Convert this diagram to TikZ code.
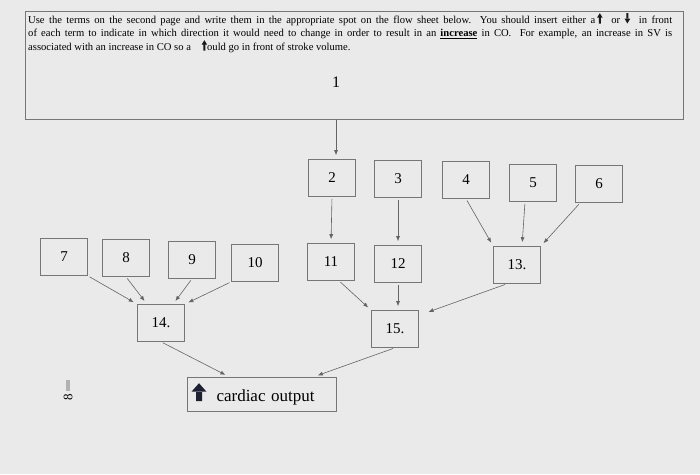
\documentclass[tikz,border=0pt]{standalone}
\usepackage{fontspec}
\setmainfont{Liberation Serif}
\usetikzlibrary{arrows.meta,positioning,calc}
\definecolor{screen}{RGB}{233,234,233}
\definecolor{rule}{RGB}{118,118,118}
\definecolor{navyarr}{RGB}{28,34,52}
% small solid arrows used inside the text
\newcommand{\uparr}{\tikz[baseline=0pt,x=1pt,y=1pt]{\fill[black!90] (1.8,-0.5) rectangle (3.8,5.5) (0,5.3) -- (5.6,5.3) -- (2.8,9.8) -- cycle;}}
\newcommand{\downarr}{\tikz[baseline=0pt,x=1pt,y=1pt]{\fill[black!90] (1.8,9.8) rectangle (3.8,4) (0,4.3) -- (5.6,4.3) -- (2.8,-0.5) -- cycle;}}
\newcommand{\bigup}{\tikz[baseline=-3pt,x=1pt,y=1pt]{\fill[navyarr] (4.5,-3) rectangle (10.5,7) (0,6.5) -- (15,6.5) -- (7.5,15) -- cycle;}}

\begin{document}
\begin{tikzpicture}[x=1pt,y=-1pt,
        font=\fontsize{15}{17}\selectfont,
        slot/.style={rectangle, draw=rule, line width=0.6pt, minimum width=47pt,
                minimum height=37pt, inner sep=0pt},
        flow/.style={draw=rule!85!black, line width=0.6pt, -{Latex[length=5pt,width=4pt]},
                shorten >=4pt, shorten <=2pt},
    ]
    \useasboundingbox (0,0) rectangle (700,474);
    \fill[screen] (0,0) rectangle (700,474);

    % ── Instructions ──────────────────────────────────────
    \node[draw=rule, line width=0.6pt, anchor=north west, minimum width=658pt,
        minimum height=108pt, inner sep=0pt] (hdr) at (25,11) {};
    \node[anchor=north west, text width=644pt, align=justify, inner sep=0pt,
        font=\fontsize{10.6}{13.5}\selectfont] (instr) at (28,13) {%
        Use the terms on the second page and write them in the appropriate spot on the flow sheet below.\ \ You should insert either a\,\uparr\ \ or\ \downarr\ \ in front\linebreak
        of each term to indicate in which direction it would need to change in order to result in an \underline{\textbf{increase}} in CO.\ \ For example, an increase in SV~is\linebreak
        associated with an increase in CO so a\quad\uparr ould go in front of stroke volume.};
    \node[font=\fontsize{16}{18}\selectfont] (one) at (336,82) {1};

    % ── Top row ───────────────────────────────────────────
    \node[slot] (b2) at (332,178) {2};
    \node[slot] (b3) at (398,179) {3};
    \node[slot] (b4) at (466,180) {4};
    \node[slot] (b5) at (533,183) {5};
    \node[slot] (b6) at (599,184) {6};

    % ── Middle row ────────────────────────────────────────
    \node[slot] (b7)  at ( 64,257) {7};
    \node[slot] (b8)  at (126,258) {8};
    \node[slot] (b9)  at (192,260) {9};
    \node[slot] (b10) at (255,263) {10};
    \node[slot] (b11) at (331,262) {11};
    \node[slot] (b12) at (398,264) {12};
    \node[slot] (b13) at (517,265) {13.};

    % ── Lower row ─────────────────────────────────────────
    \node[slot] (b14) at (161,323) {14.};
    \node[slot] (b15) at (395,329) {15.};
    \node[draw=rule, line width=0.6pt, minimum width=149pt, minimum height=34pt,
        text width=141pt, inner sep=4pt, font=\fontsize{17}{19}\selectfont] (co) at (262,394)
        {\bigup\hspace{10pt}cardiac output};

    % ── Arrows ────────────────────────────────────────────
    \coordinate (drop) at ($(hdr.south west)+(311,0)$);
    \draw[flow, shorten <=0pt] (drop) -- (drop |- b2.north);
    \draw[flow] (b2.south) -- (b11.north);
    \draw[flow] (b3.south) -- (b12.north);
    \draw[flow] (b4.south) -- (b13.north west);
    \draw[flow] ([xshift=-8pt]b5.south) -- ([xshift=5pt]b13.north);
    \draw[flow] ([xshift=5pt]b6.south west) -- (b13.north east);

    \draw[flow] (b7.south east) -- (b14.north west);
    \draw[flow] (b8.south) -- ([xshift=-14pt]b14.north);
    \draw[flow] (b9.south) -- ([xshift=12pt]b14.north);
    \draw[flow] (b10.south west) -- (b14.north east);

    \draw[flow] ([xshift=8pt]b11.south) -- (b15.north west);
    \draw[flow] (b12.south) -- ([xshift=3pt]b15.north);
    \draw[flow] ([xshift=-10pt]b13.south) -- ([xshift=6pt,yshift=-3pt]b15.north east);

    \draw[flow] (b14.south) -- ([xshift=-33pt]co.north);
    \draw[flow] (b15.south) -- ([xshift=52pt]co.north);

    % ── Stray mark at the left ────────────────────────────
    \fill[gray!60] (66,380) rectangle (69.5,391);
    \node[rotate=90, font=\fontsize{13}{14}\selectfont, inner sep=0pt] (mark) at (68,397) {8};
\end{tikzpicture}
\end{document}
